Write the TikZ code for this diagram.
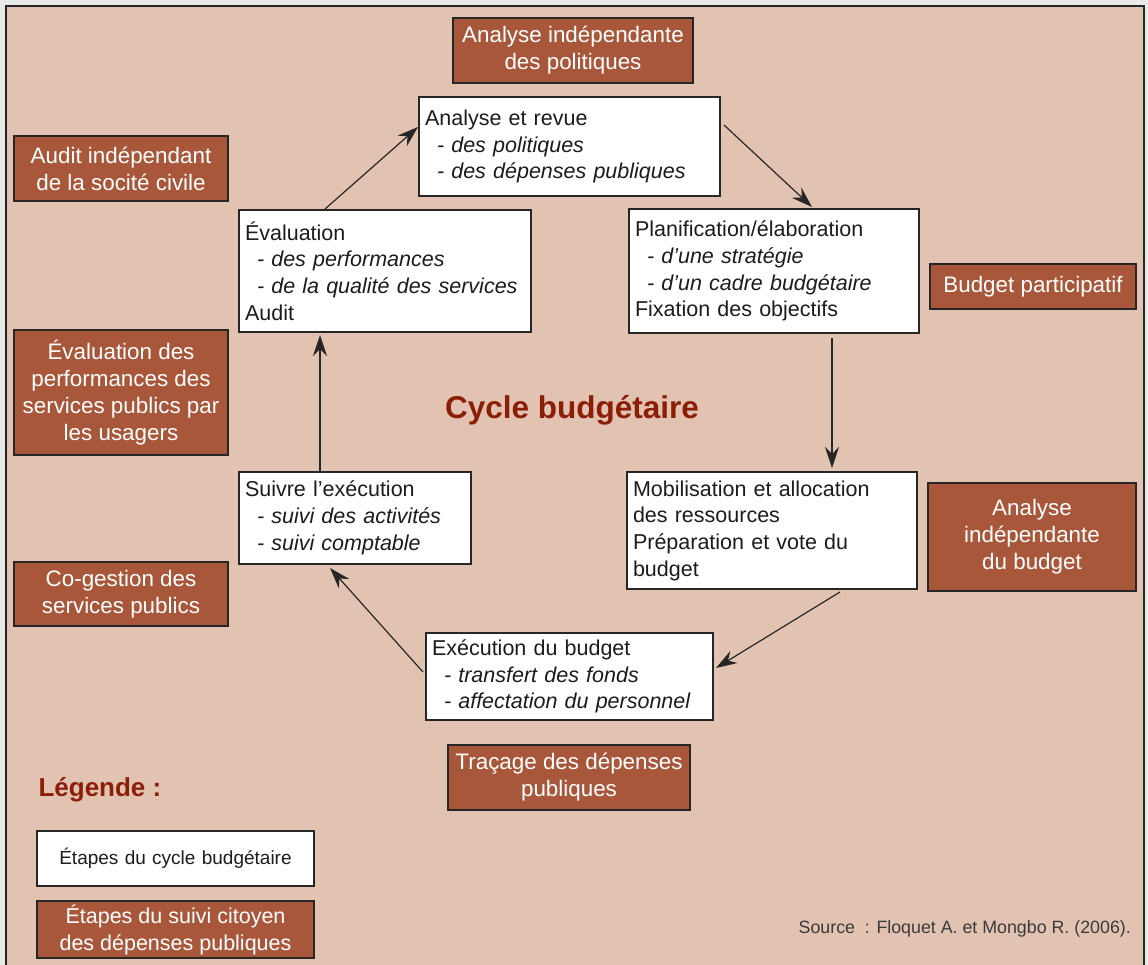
\documentclass[tikz,border=0pt]{standalone}
\usepackage{fontspec}
\setmainfont{Liberation Sans}
\usetikzlibrary{arrows.meta,calc}

\definecolor{pagegray}{HTML}{E9E9E9}
\definecolor{panel}{HTML}{E2C3B2}
\definecolor{brownbox}{HTML}{A8573A}
\definecolor{edge}{HTML}{262626}
\definecolor{txt}{HTML}{1C1C1C}
\definecolor{titlered}{HTML}{8C1E08}
\definecolor{srcgray}{HTML}{3A3A3A}

\newcommand\stepfont{\fontsize{21.5}{26.7}\selectfont}
\newcommand\civicfont{\fontsize{22.4}{27}\selectfont}

\tikzset{
  stepbox/.style={draw=edge, line width=2pt, fill=white, text=txt,
    align=left, font=\stepfont, inner xsep=6pt, inner ysep=0pt,
    anchor=north west},
  civic/.style={draw=edge, line width=2pt, fill=brownbox, text=white,
    align=center, font=\civicfont, inner sep=0pt},
  flow/.style={draw=edge, line width=1.2pt,
    -{Stealth[length=21pt,width=14pt,inset=7pt]}},
}

\newcommand\sub[1]{\hspace*{12pt}\textit{- #1}}

\begin{document}
\begin{tikzpicture}[x=1pt,y=-1pt]
  \useasboundingbox (0,0) rectangle (1148,965);
  \fill[pagegray] (0,0) rectangle (1148,965);
  \draw[edge, line width=2.5pt, fill=panel] (6,6) rectangle (1144,980);

  % budget cycle steps
  \node[stepbox, text width=289pt, minimum height=99pt] (A) at (418,96)
    {Analyse et revue\\ \sub{des politiques}\\ \sub{des dépenses publiques}};
  \node[stepbox, text width=280pt, minimum height=122pt] (B) at (238,209)
    {Évaluation\\ \sub{des performances}\\ \sub{de la qualité des services}\\ Audit};
  \node[stepbox, text width=278pt, minimum height=124pt] (C) at (628,208)
    {Planification/élaboration\\ \sub{d’une stratégie}\\ \sub{d’un cadre budgétaire}\\ Fixation des objectifs};
  \node[stepbox, text width=220pt, minimum height=92pt] (D) at (238,471)
    {Suivre l’exécution\\ \sub{suivi des activités}\\ \sub{suivi comptable}};
  \node[stepbox, text width=278pt, minimum height=117pt] (E) at (626,471)
    {Mobilisation et allocation\\ des ressources\\ Préparation et vote du\\ budget};
  \node[stepbox, text width=275pt, minimum height=87pt] (F) at (425,632)
    {Exécution du budget\\ \sub{transfert des fonds}\\ \sub{affectation du personnel}};

  % citizen monitoring steps
  \node[civic, minimum width=240pt, minimum height=65pt] (p1) at (573,50.5)
    {Analyse indépendante\\ des politiques};
  \node[civic, minimum width=214pt, minimum height=65pt] (p2) at (121,168.5)
    {Audit indépendant\\ de la socité civile};
  \node[civic, minimum width=206pt, minimum height=45pt] (p3) at (1033,286.5)
    {Budget participatif};
  \node[civic, minimum width=214pt, minimum height=125pt] (p4) at (121,392.5)
    {Évaluation des\\ performances des\\ services publics par\\ les usagers};
  \node[civic, minimum width=208pt, minimum height=108pt] (p5) at (1032,537)
    {Analyse\\ indépendante\\ du budget};
  \node[civic, minimum width=214pt, minimum height=64pt] (p6) at (121,594)
    {Co-gestion des\\ services publics};
  \node[civic, minimum width=242pt, minimum height=65pt] (p7) at (569,777.5)
    {Traçage des dépenses\\ publiques};

  % title
  \node[text=titlered, font=\fontsize{31.5}{36}\selectfont\bfseries] (title)
    at (572,410) {Cycle budgétaire};

  % cycle arrows
  \draw[flow] ($(B.north west)+(87,0)$) -- ($(A.north west)+(0,31)$);
  \draw[flow] ($(A.north east)+(3,29)$) -- ($(C.north west)+(184,-1)$);
  \draw[flow] ($(C.south west)+(204,4)$) -- ($(E.north west)+(206,-3)$);
  \draw[flow] ($(E.south west)+(214,2)$) -- ($(F.north east)+(2,36)$);
  \draw[flow] ($(F.north west)+(-2,40)$) -- ($(D.south west)+(92,3)$);
  \draw[flow] ($(D.north west)+(82,0)$) -- ($(B.south west)+(82,2)$);

  % legend
  \node[anchor=west, text=titlered, font=\fontsize{26}{30}\selectfont\bfseries]
    (legtitle) at (35,790) {Légende :};
  \node[stepbox, anchor=center, align=center, inner xsep=0pt, text width=277pt,
    minimum height=55pt, font=\fontsize{19}{23}\selectfont] (legstep)
    at (175.5,858.5) {Étapes du cycle budgétaire};
  \node[civic, minimum width=277pt, minimum height=57pt,
    font=\fontsize{21.5}{27}\selectfont] (legcivic) at (175.5,929.5)
    {Étapes du suivi citoyen\\ des dépenses publiques};

  % source
  \node[anchor=east, text=srcgray, font=\fontsize{17.8}{20}\selectfont, inner sep=0pt] (src)
    at (1131,929) {Source\ \ : Floquet A. et Mongbo R. (2006).};
\end{tikzpicture}
\end{document}
